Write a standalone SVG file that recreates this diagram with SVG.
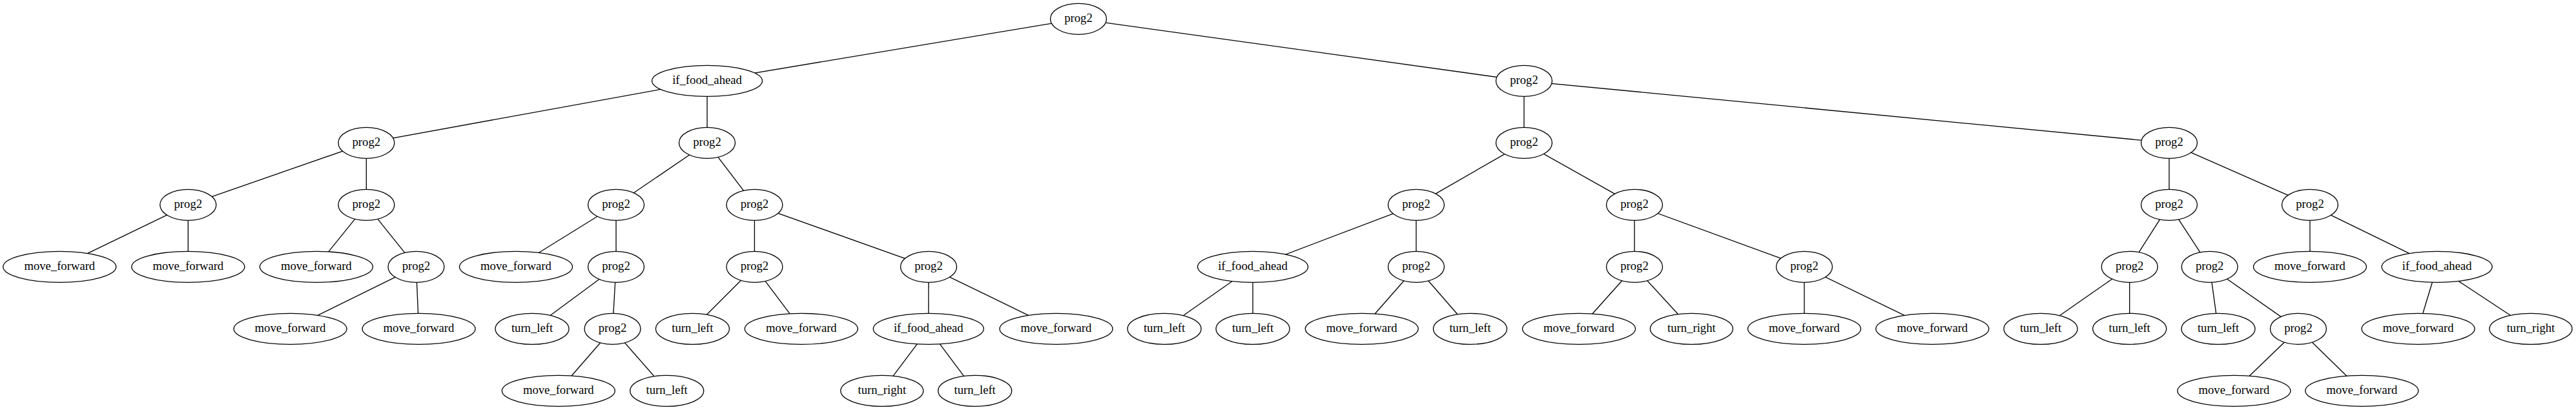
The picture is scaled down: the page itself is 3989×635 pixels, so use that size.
<svg xmlns="http://www.w3.org/2000/svg" width="3989" height="635" viewBox="0 0 3989 635">
<style>
.e{stroke:#000;stroke-width:1.33;fill:none}
.n ellipse{fill:#fff;stroke:#000;stroke-width:1.33}
.n text{font-family:"Liberation Serif","Times New Roman",serif;font-size:18.67px;text-anchor:middle;fill:#000}
</style>
<rect width="3989" height="635" fill="#fff"/>
<g id="edges" class="e">
<line x1="1670" y1="29.3" x2="1095" y2="125.3"/>
<line x1="1670" y1="29.3" x2="2360" y2="125.3"/>
<line x1="1095" y1="125.3" x2="567.3" y2="221.3"/>
<line x1="1095" y1="125.3" x2="1095" y2="221.3"/>
<line x1="2360" y1="125.3" x2="2360" y2="221.3"/>
<line x1="2360" y1="125.3" x2="3359" y2="221.3"/>
<line x1="567.3" y1="221.3" x2="291.3" y2="317.3"/>
<line x1="567.3" y1="221.3" x2="567.3" y2="317.3"/>
<line x1="1095" y1="221.3" x2="954" y2="317.3"/>
<line x1="1095" y1="221.3" x2="1168.4" y2="317.3"/>
<line x1="2360" y1="221.3" x2="2193" y2="317.3"/>
<line x1="2360" y1="221.3" x2="2531" y2="317.3"/>
<line x1="3359" y1="221.3" x2="3359" y2="317.3"/>
<line x1="3359" y1="221.3" x2="3577" y2="317.3"/>
<line x1="291.3" y1="317.3" x2="92.3" y2="413.3"/>
<line x1="291.3" y1="317.3" x2="291.3" y2="413.3"/>
<line x1="567.3" y1="317.3" x2="489.8" y2="413.3"/>
<line x1="567.3" y1="317.3" x2="644.4" y2="413.3"/>
<line x1="954" y1="317.3" x2="799" y2="413.3"/>
<line x1="954" y1="317.3" x2="954" y2="413.3"/>
<line x1="1168.4" y1="317.3" x2="1168.4" y2="413.3"/>
<line x1="1168.4" y1="317.3" x2="1438" y2="413.3"/>
<line x1="2193" y1="317.3" x2="1940" y2="413.3"/>
<line x1="2193" y1="317.3" x2="2193" y2="413.3"/>
<line x1="2531" y1="317.3" x2="2531" y2="413.3"/>
<line x1="2531" y1="317.3" x2="2794" y2="413.3"/>
<line x1="3359" y1="317.3" x2="3297.7" y2="413.3"/>
<line x1="3359" y1="317.3" x2="3421.7" y2="413.3"/>
<line x1="3577" y1="317.3" x2="3577" y2="413.3"/>
<line x1="3577" y1="317.3" x2="3773.7" y2="413.3"/>
<line x1="644.4" y1="413.3" x2="449.5" y2="509.3"/>
<line x1="644.4" y1="413.3" x2="648.5" y2="509.3"/>
<line x1="954" y1="413.3" x2="824" y2="509.3"/>
<line x1="954" y1="413.3" x2="948.5" y2="509.3"/>
<line x1="1168.4" y1="413.3" x2="1072.4" y2="509.3"/>
<line x1="1168.4" y1="413.3" x2="1240.8" y2="509.3"/>
<line x1="1438" y1="413.3" x2="1437.8" y2="509.3"/>
<line x1="1438" y1="413.3" x2="1635.5" y2="509.3"/>
<line x1="1940" y1="413.3" x2="1803" y2="509.3"/>
<line x1="1940" y1="413.3" x2="1940" y2="509.3"/>
<line x1="2193" y1="413.3" x2="2108.7" y2="509.3"/>
<line x1="2193" y1="413.3" x2="2276.5" y2="509.3"/>
<line x1="2531" y1="413.3" x2="2445" y2="509.3"/>
<line x1="2531" y1="413.3" x2="2619.4" y2="509.3"/>
<line x1="2794" y1="413.3" x2="2794" y2="509.3"/>
<line x1="2794" y1="413.3" x2="2992.3" y2="509.3"/>
<line x1="3297.7" y1="413.3" x2="3160" y2="509.3"/>
<line x1="3297.7" y1="413.3" x2="3297.7" y2="509.3"/>
<line x1="3421.7" y1="413.3" x2="3435" y2="509.3"/>
<line x1="3421.7" y1="413.3" x2="3559" y2="509.3"/>
<line x1="3773.7" y1="413.3" x2="3744.6" y2="509.3"/>
<line x1="3773.7" y1="413.3" x2="3919" y2="509.3"/>
<line x1="948.5" y1="509.3" x2="864.8" y2="605.3"/>
<line x1="948.5" y1="509.3" x2="1032.7" y2="605.3"/>
<line x1="1437.8" y1="509.3" x2="1365.8" y2="605.3"/>
<line x1="1437.8" y1="509.3" x2="1509.7" y2="605.3"/>
<line x1="3559" y1="509.3" x2="3459.4" y2="605.3"/>
<line x1="3559" y1="509.3" x2="3657.4" y2="605.3"/>
</g>
<g id="n0" class="n"><ellipse cx="1670" cy="29.3" rx="43.5" ry="24"/><text x="1670" y="34.3">prog2</text></g>
<g id="n1" class="n"><ellipse cx="1095" cy="125.3" rx="85.5" ry="24"/><text x="1095" y="130.3">if_food_ahead</text></g>
<g id="n2" class="n"><ellipse cx="2360" cy="125.3" rx="43.5" ry="24"/><text x="2360" y="130.3">prog2</text></g>
<g id="n3" class="n"><ellipse cx="567.3" cy="221.3" rx="43.5" ry="24"/><text x="567.3" y="226.3">prog2</text></g>
<g id="n4" class="n"><ellipse cx="1095" cy="221.3" rx="43.5" ry="24"/><text x="1095" y="226.3">prog2</text></g>
<g id="n5" class="n"><ellipse cx="2360" cy="221.3" rx="43.5" ry="24"/><text x="2360" y="226.3">prog2</text></g>
<g id="n6" class="n"><ellipse cx="3359" cy="221.3" rx="43.5" ry="24"/><text x="3359" y="226.3">prog2</text></g>
<g id="n7" class="n"><ellipse cx="291.3" cy="317.3" rx="43.5" ry="24"/><text x="291.3" y="322.3">prog2</text></g>
<g id="n8" class="n"><ellipse cx="567.3" cy="317.3" rx="43.5" ry="24"/><text x="567.3" y="322.3">prog2</text></g>
<g id="n9" class="n"><ellipse cx="954" cy="317.3" rx="43.5" ry="24"/><text x="954" y="322.3">prog2</text></g>
<g id="n10" class="n"><ellipse cx="1168.4" cy="317.3" rx="43.5" ry="24"/><text x="1168.4" y="322.3">prog2</text></g>
<g id="n11" class="n"><ellipse cx="2193" cy="317.3" rx="43.5" ry="24"/><text x="2193" y="322.3">prog2</text></g>
<g id="n12" class="n"><ellipse cx="2531" cy="317.3" rx="43.5" ry="24"/><text x="2531" y="322.3">prog2</text></g>
<g id="n13" class="n"><ellipse cx="3359" cy="317.3" rx="43.5" ry="24"/><text x="3359" y="322.3">prog2</text></g>
<g id="n14" class="n"><ellipse cx="3577" cy="317.3" rx="43.5" ry="24"/><text x="3577" y="322.3">prog2</text></g>
<g id="n15" class="n"><ellipse cx="92.3" cy="413.3" rx="87.5" ry="24"/><text x="92.3" y="418.3">move_forward</text></g>
<g id="n16" class="n"><ellipse cx="291.3" cy="413.3" rx="87.5" ry="24"/><text x="291.3" y="418.3">move_forward</text></g>
<g id="n17" class="n"><ellipse cx="489.8" cy="413.3" rx="87.5" ry="24"/><text x="489.8" y="418.3">move_forward</text></g>
<g id="n18" class="n"><ellipse cx="644.4" cy="413.3" rx="43.5" ry="24"/><text x="644.4" y="418.3">prog2</text></g>
<g id="n19" class="n"><ellipse cx="799" cy="413.3" rx="87.5" ry="24"/><text x="799" y="418.3">move_forward</text></g>
<g id="n20" class="n"><ellipse cx="954" cy="413.3" rx="43.5" ry="24"/><text x="954" y="418.3">prog2</text></g>
<g id="n21" class="n"><ellipse cx="1168.4" cy="413.3" rx="43.5" ry="24"/><text x="1168.4" y="418.3">prog2</text></g>
<g id="n22" class="n"><ellipse cx="1438" cy="413.3" rx="43.5" ry="24"/><text x="1438" y="418.3">prog2</text></g>
<g id="n23" class="n"><ellipse cx="1940" cy="413.3" rx="85.5" ry="24"/><text x="1940" y="418.3">if_food_ahead</text></g>
<g id="n24" class="n"><ellipse cx="2193" cy="413.3" rx="43.5" ry="24"/><text x="2193" y="418.3">prog2</text></g>
<g id="n25" class="n"><ellipse cx="2531" cy="413.3" rx="43.5" ry="24"/><text x="2531" y="418.3">prog2</text></g>
<g id="n26" class="n"><ellipse cx="2794" cy="413.3" rx="43.5" ry="24"/><text x="2794" y="418.3">prog2</text></g>
<g id="n27" class="n"><ellipse cx="3297.7" cy="413.3" rx="43.5" ry="24"/><text x="3297.7" y="418.3">prog2</text></g>
<g id="n28" class="n"><ellipse cx="3421.7" cy="413.3" rx="43.5" ry="24"/><text x="3421.7" y="418.3">prog2</text></g>
<g id="n29" class="n"><ellipse cx="3577" cy="413.3" rx="87.5" ry="24"/><text x="3577" y="418.3">move_forward</text></g>
<g id="n30" class="n"><ellipse cx="3773.7" cy="413.3" rx="85.5" ry="24"/><text x="3773.7" y="418.3">if_food_ahead</text></g>
<g id="n31" class="n"><ellipse cx="449.5" cy="509.3" rx="87.5" ry="24"/><text x="449.5" y="514.3">move_forward</text></g>
<g id="n32" class="n"><ellipse cx="648.5" cy="509.3" rx="87.5" ry="24"/><text x="648.5" y="514.3">move_forward</text></g>
<g id="n33" class="n"><ellipse cx="824" cy="509.3" rx="57" ry="24"/><text x="824" y="514.3">turn_left</text></g>
<g id="n34" class="n"><ellipse cx="948.5" cy="509.3" rx="43.5" ry="24"/><text x="948.5" y="514.3">prog2</text></g>
<g id="n35" class="n"><ellipse cx="1072.4" cy="509.3" rx="57" ry="24"/><text x="1072.4" y="514.3">turn_left</text></g>
<g id="n36" class="n"><ellipse cx="1240.8" cy="509.3" rx="87.5" ry="24"/><text x="1240.8" y="514.3">move_forward</text></g>
<g id="n37" class="n"><ellipse cx="1437.8" cy="509.3" rx="85.5" ry="24"/><text x="1437.8" y="514.3">if_food_ahead</text></g>
<g id="n38" class="n"><ellipse cx="1635.5" cy="509.3" rx="87.5" ry="24"/><text x="1635.5" y="514.3">move_forward</text></g>
<g id="n39" class="n"><ellipse cx="1803" cy="509.3" rx="57" ry="24"/><text x="1803" y="514.3">turn_left</text></g>
<g id="n40" class="n"><ellipse cx="1940" cy="509.3" rx="57" ry="24"/><text x="1940" y="514.3">turn_left</text></g>
<g id="n41" class="n"><ellipse cx="2108.7" cy="509.3" rx="87.5" ry="24"/><text x="2108.7" y="514.3">move_forward</text></g>
<g id="n42" class="n"><ellipse cx="2276.5" cy="509.3" rx="57" ry="24"/><text x="2276.5" y="514.3">turn_left</text></g>
<g id="n43" class="n"><ellipse cx="2445" cy="509.3" rx="87.5" ry="24"/><text x="2445" y="514.3">move_forward</text></g>
<g id="n44" class="n"><ellipse cx="2619.4" cy="509.3" rx="64" ry="24"/><text x="2619.4" y="514.3">turn_right</text></g>
<g id="n45" class="n"><ellipse cx="2794" cy="509.3" rx="87.5" ry="24"/><text x="2794" y="514.3">move_forward</text></g>
<g id="n46" class="n"><ellipse cx="2992.3" cy="509.3" rx="87.5" ry="24"/><text x="2992.3" y="514.3">move_forward</text></g>
<g id="n47" class="n"><ellipse cx="3160" cy="509.3" rx="57" ry="24"/><text x="3160" y="514.3">turn_left</text></g>
<g id="n48" class="n"><ellipse cx="3297.7" cy="509.3" rx="57" ry="24"/><text x="3297.7" y="514.3">turn_left</text></g>
<g id="n49" class="n"><ellipse cx="3435" cy="509.3" rx="57" ry="24"/><text x="3435" y="514.3">turn_left</text></g>
<g id="n50" class="n"><ellipse cx="3559" cy="509.3" rx="43.5" ry="24"/><text x="3559" y="514.3">prog2</text></g>
<g id="n51" class="n"><ellipse cx="3744.6" cy="509.3" rx="87.5" ry="24"/><text x="3744.6" y="514.3">move_forward</text></g>
<g id="n52" class="n"><ellipse cx="3919" cy="509.3" rx="64" ry="24"/><text x="3919" y="514.3">turn_right</text></g>
<g id="n53" class="n"><ellipse cx="864.8" cy="605.3" rx="87.5" ry="24"/><text x="864.8" y="610.3">move_forward</text></g>
<g id="n54" class="n"><ellipse cx="1032.7" cy="605.3" rx="57" ry="24"/><text x="1032.7" y="610.3">turn_left</text></g>
<g id="n55" class="n"><ellipse cx="1365.8" cy="605.3" rx="64" ry="24"/><text x="1365.8" y="610.3">turn_right</text></g>
<g id="n56" class="n"><ellipse cx="1509.7" cy="605.3" rx="57" ry="24"/><text x="1509.7" y="610.3">turn_left</text></g>
<g id="n57" class="n"><ellipse cx="3459.4" cy="605.3" rx="87.5" ry="24"/><text x="3459.4" y="610.3">move_forward</text></g>
<g id="n58" class="n"><ellipse cx="3657.4" cy="605.3" rx="87.5" ry="24"/><text x="3657.4" y="610.3">move_forward</text></g>
</svg>
